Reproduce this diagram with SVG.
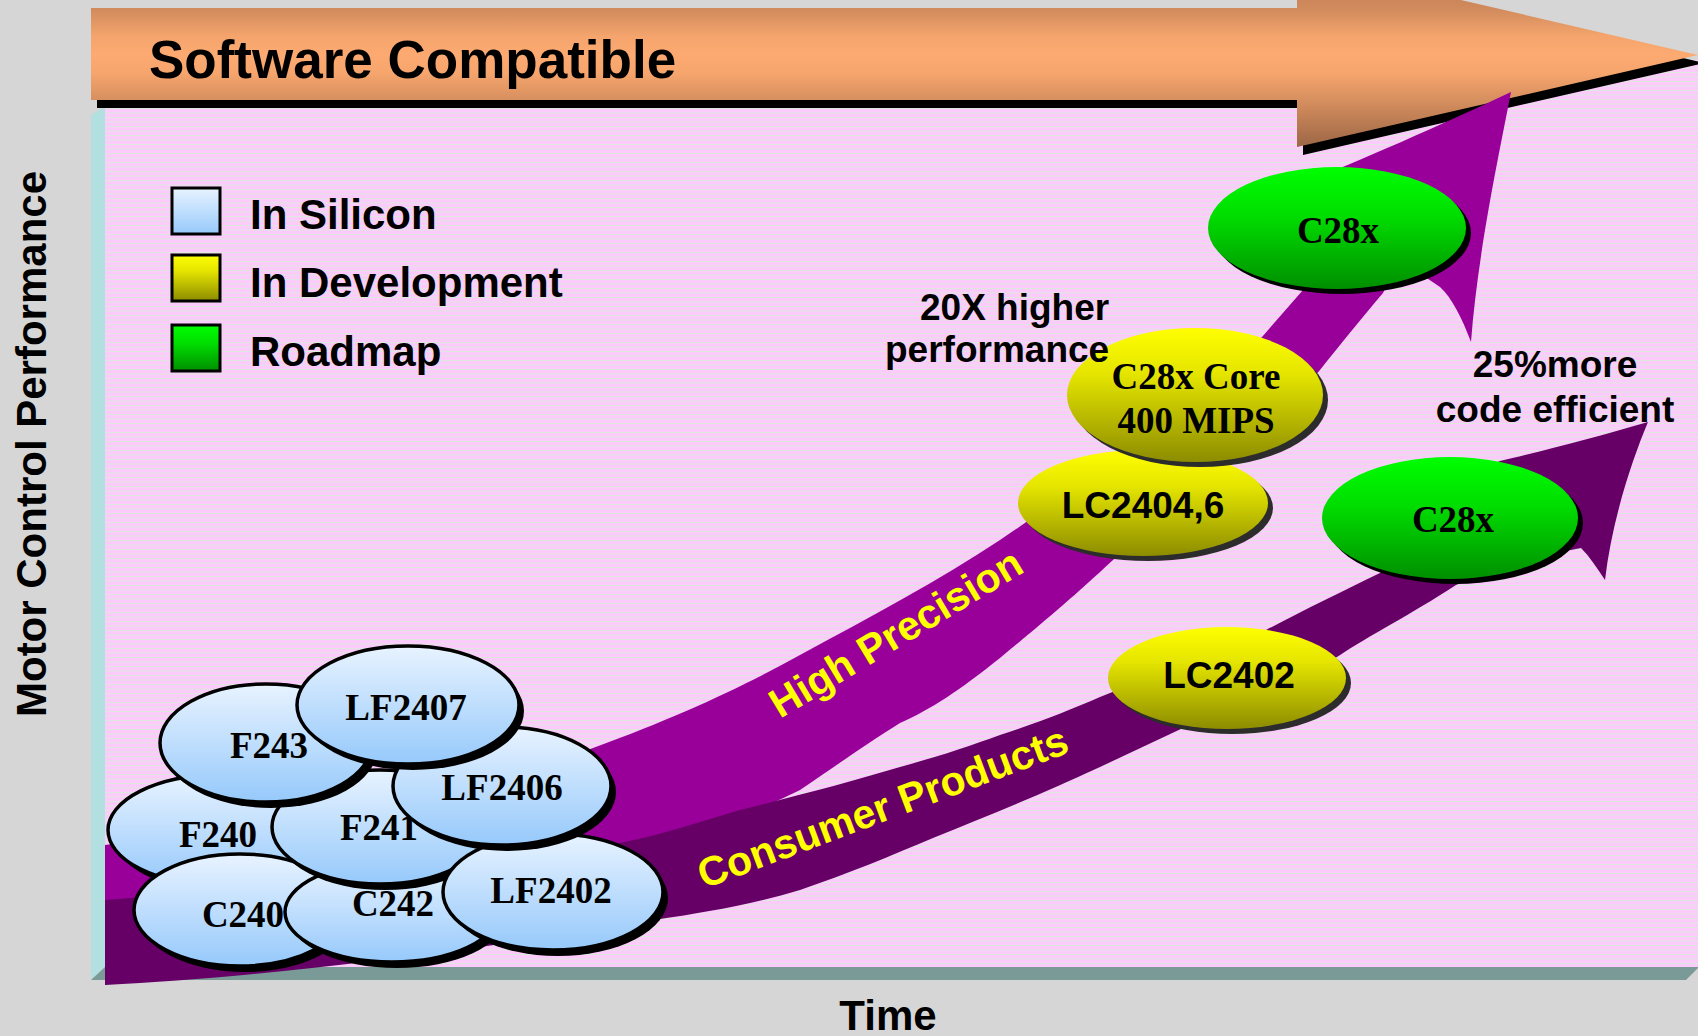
<svg xmlns="http://www.w3.org/2000/svg" width="1698" height="1036" viewBox="0 0 1698 1036">
<defs>
<style>
.sans{font-family:"Liberation Sans",Arial,sans-serif;font-weight:bold;fill:#000}
.serif{font-family:"Liberation Serif","Times New Roman",serif;font-weight:bold;fill:#000}
.lbl{font-size:37px;text-anchor:middle}
.blue{fill:url(#gBlue);stroke:#000;stroke-width:3.5}
.bsh{fill:#000}
.ysh{fill:#2c2c2c}
.gsh{fill:#000}
.yel{fill:url(#gYel)}
.grn{fill:url(#gGrn)}
.band{font-size:41px;fill:#ffff00}
</style>
<linearGradient id="gBlue" x1="0" y1="0" x2="0" y2="1"><stop offset="0" stop-color="#e8f3ff"/><stop offset="1" stop-color="#96c9fb"/></linearGradient>
<linearGradient id="gYel" x1="0" y1="0" x2="0" y2="1"><stop offset="0" stop-color="#ffff00"/><stop offset="0.35" stop-color="#e4e400"/><stop offset="1" stop-color="#8c8c00"/></linearGradient>
<linearGradient id="gGrn" x1="0" y1="0" x2="0" y2="1"><stop offset="0" stop-color="#00ff00"/><stop offset="0.4" stop-color="#00dd00"/><stop offset="1" stop-color="#008f00"/></linearGradient>
<linearGradient id="gOrange" gradientUnits="userSpaceOnUse" x1="0" y1="-38" x2="0" y2="147">
<stop offset="0" stop-color="#b87850"/><stop offset="0.25" stop-color="#d08a5c"/><stop offset="0.4" stop-color="#f4a46c"/><stop offset="0.5" stop-color="#fcaa72"/><stop offset="0.6" stop-color="#f6a56d"/><stop offset="0.74" stop-color="#d8905f"/><stop offset="1" stop-color="#9c6646"/>
</linearGradient>
<pattern id="stripes" width="8" height="4.5" patternUnits="userSpaceOnUse"><rect width="8" height="4.5" fill="#fccbfc"/><rect width="8" height="1" fill="#dbe9db"/></pattern>
</defs>

<rect width="1698" height="1036" fill="#d6d6d6"/>

<g id="plot">
<rect x="105" y="60" width="1593" height="907" fill="url(#stripes)"/>
<polygon points="91,115 105,107 105,967 91,980" fill="#b2dfdf"/>
<polygon points="91,980 105,967 1698,967 1698,968 1686,980" fill="#7a9a97"/>
</g>

<g id="software-compatible">
<polygon points="97,16 1303,16 1303,-30 1704,63 1303,155 1303,108 97,108" fill="#000"/>
<polygon points="91,8 1297,8 1297,-38 1698,55 1297,147 1297,100 91,100" fill="url(#gOrange)"/>
<text class="sans" x="149" y="78" font-size="53">Software Compatible</text>
</g>

<g id="connectors">
<path id="high-precision" fill="#990099" d="M105,845 C300,820 480,790 593,748 C680,716 740,688 800,655 C870,617 940,580 1000,540 C1060,500 1110,460 1150,425 C1190,392 1230,370 1262,337 L1303,290 L1300,185 C1360,160 1440,126 1511,92 C1500,150 1478,250 1471,342 C1462,318 1452,298 1440,287 L1400,260 L1383,293 C1360,320 1340,345 1320,370 L1250,450 L1180,505 L1113,560 C1070,600 1040,625 1000,658 C960,690 930,710 900,723 C860,748 830,770 800,790 C770,805 750,812 740,815 C650,860 400,895 105,905 Z"/>
<path id="consumer-products" fill="#660066" d="M105,900 C300,885 500,862 620,843 C660,835 700,822 740,810 C800,795 850,782 900,767 C940,756 970,746 1000,735 C1040,722 1070,710 1100,697 L1180,665 L1266,630 C1300,612 1345,590 1380,573 L1450,480 L1500,461 C1540,452 1600,436 1648,422 C1632,460 1612,520 1605,580 C1597,568 1590,557 1581,548 L1520,560 L1456,585 C1410,615 1370,635 1337,657 L1200,720 L1100,767 C1040,795 990,815 933,838 C890,856 850,873 800,890 C750,905 700,913 660,919 C450,955 250,978 105,985 Z"/>
<text class="sans band" transform="translate(780,719) rotate(-31)" font-size="42">High Precision</text>
<text class="sans band" transform="translate(704,889) rotate(-20.5)" font-size="42">Consumer Products</text>
</g>

<g id="F240"><ellipse class="bsh" cx="223" cy="836" rx="110" ry="55"/><ellipse class="blue" cx="218" cy="830" rx="110" ry="55"/><text class="serif lbl" x="218" y="847">F240</text></g>
<g id="C240"><ellipse class="bsh" cx="245" cy="916" rx="106" ry="56"/><ellipse class="blue" cx="240" cy="910" rx="106" ry="56"/><text class="serif lbl" x="243" y="927">C240</text></g>
<g id="C242"><ellipse class="bsh" cx="397" cy="918" rx="107" ry="50"/><ellipse class="blue" cx="392" cy="912" rx="107" ry="50"/><text class="serif lbl" x="393" y="916">C242</text></g>
<g id="F241"><ellipse class="bsh" cx="385" cy="833" rx="108" ry="57"/><ellipse class="blue" cx="380" cy="827" rx="108" ry="57"/><text class="serif lbl" x="379" y="840">F241</text></g>
<g id="F243"><ellipse class="bsh" cx="271" cy="749" rx="106" ry="59"/><ellipse class="blue" cx="266" cy="743" rx="106" ry="59"/><text class="serif lbl" x="269" y="758">F243</text></g>
<g id="LF2402"><ellipse class="bsh" cx="558" cy="898" rx="110" ry="58"/><ellipse class="blue" cx="553" cy="892" rx="110" ry="58"/><text class="serif lbl" x="551" y="903">LF2402</text></g>
<g id="LF2406"><ellipse class="bsh" cx="507" cy="792" rx="109" ry="59"/><ellipse class="blue" cx="502" cy="786" rx="109" ry="59"/><text class="serif lbl" x="502" y="800">LF2406</text></g>
<g id="LF2407"><ellipse class="bsh" cx="413" cy="711" rx="111" ry="59"/><ellipse class="blue" cx="408" cy="705" rx="111" ry="59"/><text class="serif lbl" x="406" y="720">LF2407</text></g>

<g id="LC2402"><ellipse class="ysh" cx="1232" cy="683" rx="119" ry="51"/><ellipse class="yel" cx="1227" cy="678" rx="119" ry="51"/><text class="sans lbl" x="1229" y="688">LC2402</text></g>
<g id="LC2404-6"><ellipse class="ysh" cx="1148" cy="508" rx="125" ry="53"/><ellipse class="yel" cx="1143" cy="503" rx="125" ry="53"/><text class="sans lbl" x="1143" y="518">LC2404,6</text></g>
<g id="C28x-core"><ellipse class="ysh" cx="1200" cy="400" rx="128" ry="67"/><ellipse class="yel" cx="1195" cy="395" rx="128" ry="67"/><text class="serif lbl" x="1196" y="389">C28x Core</text><text class="serif lbl" x="1196" y="433">400 MIPS</text></g>
<g id="C28x-high"><ellipse class="gsh" cx="1342" cy="233" rx="129" ry="61"/><ellipse class="grn" cx="1337" cy="228" rx="129" ry="61"/><text class="serif lbl" x="1338" y="243">C28x</text></g>
<g id="C28x-consumer"><ellipse class="gsh" cx="1455" cy="523" rx="128" ry="61"/><ellipse class="grn" cx="1450" cy="518" rx="128" ry="61"/><text class="serif lbl" x="1453" y="532">C28x</text></g>

<g id="legend">
<rect x="172" y="188" width="48" height="46" fill="url(#gBlue)" stroke="#000" stroke-width="3"/>
<rect x="172" y="255" width="48" height="46" fill="url(#gYel)" stroke="#000" stroke-width="3"/>
<rect x="172" y="325" width="48" height="46" fill="url(#gGrn)" stroke="#000" stroke-width="3"/>
<text class="sans" x="250" y="229" font-size="42">In Silicon</text>
<text class="sans" x="250" y="297" font-size="42">In Development</text>
<text class="sans" x="250" y="366" font-size="42">Roadmap</text>
</g>

<g id="annotations">
<text class="sans" x="920" y="320" font-size="37">20X higher</text>
<text class="sans" x="885" y="362" font-size="37">performance</text>
<text class="sans" x="1555" y="377" font-size="37" text-anchor="middle">25%more</text>
<text class="sans" x="1555" y="422" font-size="37" text-anchor="middle">code efficient</text>
<text class="sans" x="888" y="1030" font-size="42" text-anchor="middle">Time</text>
<text class="sans" font-size="42" text-anchor="middle" transform="translate(46,444) rotate(-90)">Motor Control Performance</text>
</g>
</svg>
